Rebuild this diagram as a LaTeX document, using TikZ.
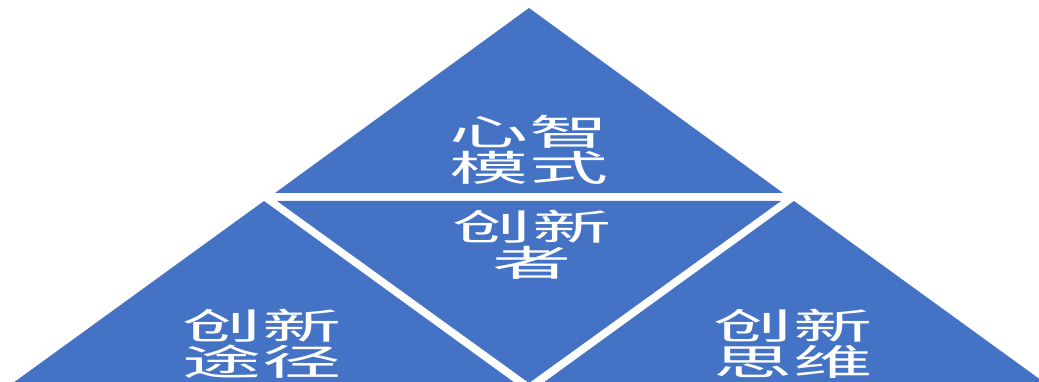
\documentclass[tikz,border=0pt]{standalone}
\usepackage{fontspec}
\newfontfamily\cjk[FakeStretch=2.2]{Noto Sans CJK SC}
\definecolor{triblue}{HTML}{4472C4}
\begin{document}
\begin{tikzpicture}[x=1pt,y=-1pt,
  tri/.style={fill=triblue, draw=none},
  lbl/.style={text=white, align=center, inner sep=0pt, font=\cjk\fontsize{36}{36}\selectfont}]
\useasboundingbox (0,0) rectangle (1039,382);
\clip (0,0) rectangle (1039,382);
% top triangle
\fill[tri] (529,8) -- (275,193) -- (783,193) -- cycle;
% middle inverted triangle
\fill[tri] (277,201) -- (781,201) -- (529,383) -- cycle;
% left triangle
\fill[tri] (264,201) -- (13,383) -- (515,383) -- cycle;
% right triangle
\fill[tri] (794,201) -- (543,383) -- (1045,383) -- cycle;
% labels
\node[lbl] (top) at (529,150) {心智\\模式};
\node[lbl] (mid) at (532,245) {创新\\者};
\node[lbl] (left) at (262,344) {创新\\途径};
\node[lbl] (right) at (793,344) {创新\\思维};
\end{tikzpicture}
\end{document}
